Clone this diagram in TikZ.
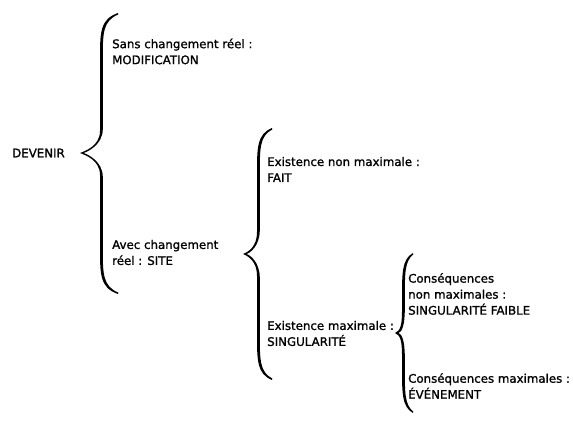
\documentclass[tikz,border=0pt]{standalone}
\usepackage{fontspec}
\setmainfont{DejaVu Sans}[FakeBold=1.2]
\newcommand\mybrace[6]{% xt, xv, xc, yt, ym, yb
  \fill[black] (#1,#4) .. controls (#2,{#4+6}) and (#2,{#4+20}) .. (#2,{#4+45})
    -- (#2,{#5-22}) .. controls (#2,{#5-7}) and ({#3+5},{#5-2}) .. (#3,#5)
    .. controls ({#3+5},{#5+2}) and (#2,{#5+7}) .. (#2,{#5+22})
    -- (#2,{#6-45}) .. controls (#2,{#6-20}) and (#2,{#6-6}) .. (#1,#6)
    -- ({#1+0.3},{#6-1.4}) .. controls ({#2+2.8},{#6-8}) and ({#2+2.8},{#6-20}) .. ({#2+2.8},{#6-45})
    -- ({#2+2.8},{#5+24}) .. controls ({#2+2.8},{#5+8}) and ({#3+7},{#5+1}) .. ({#3+3.5},#5)
    .. controls ({#3+7},{#5-1}) and ({#2+2.8},{#5-8}) .. ({#2+2.8},{#5-24})
    -- ({#2+2.8},{#4+45}) .. controls ({#2+2.8},{#4+20}) and ({#2+2.8},{#4+8}) .. ({#1+0.3},{#4+1.4}) -- cycle;}
\begin{document}
\begin{tikzpicture}[x=1pt,y=-1pt,
  lbl/.style={anchor=west,inner sep=0pt,align=left,font=\fontsize{11.8}{16}\selectfont}]
\useasboundingbox (0,0) rectangle (573,421);
\mybrace{118}{100}{80}{13}{153}{294}
\mybrace{272}{257}{243}{128}{254}{380}
\mybrace{413}{402}{395}{253}{333}{413}
\node[lbl] (dev) at (12,153) {DEVENIR};
\node[lbl] (sans) at (112,51.5) {Sans changement réel :\\MODIFICATION};
\node[lbl] (avec) at (112,252.5) {Avec changement\\réel : SITE};
\node[lbl] (exn) at (267,169.5) {Existence non maximale :\\FAIT};
\node[lbl] (exm) at (267,333.5) {Existence maximale :\\SINGULARITÉ};
\node[lbl] (csn) at (408,294) {Conséquences\\non maximales :\\SINGULARITÉ FAIBLE};
\node[lbl] (csm) at (408,386) {Conséquences maximales :\\ÉVÉNEMENT};
\end{tikzpicture}
\end{document}
